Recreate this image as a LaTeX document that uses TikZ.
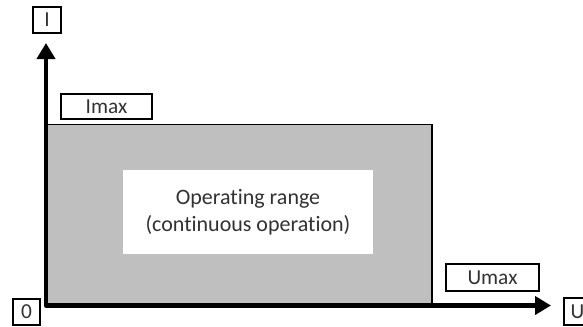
\documentclass[tikz,border=0pt]{standalone}
\usepackage{fontspec}
\setmainfont{Carlito}[Ligatures=NoCommon]
\usetikzlibrary{arrows.meta}
\definecolor{rangegray}{RGB}{191,191,191}
\definecolor{txtgray}{RGB}{50,50,50}
\tikzset{
  lblbox/.style={draw, line width=1pt, inner sep=0pt, text=txtgray,
    font=\fontsize{16}{19}\selectfont},
  axisline/.style={line width=3.4pt, line join=round,
    {Triangle[length=12pt,width=13.5pt]}-{Triangle[length=12pt,width=13.5pt]}},
}
\begin{document}
\begin{tikzpicture}[x=0.75pt,y=0.75pt,yscale=-1,xscale=1]
\useasboundingbox (0,0) rectangle (583,326);
% operating range
\draw [fill=rangegray, line width=1.1pt] (46,124.5) rectangle (432,305);
\node (range) [fill=white, inner sep=0pt, minimum width=187.5pt, minimum height=63pt,
  align=center, text=txtgray, font=\fontsize{16.5}{20.25}\selectfont] at (248,212)
  {Operating range\\(continuous operation)};
% axes
\coordinate (o) at (46,305.5);
\coordinate (itip) at (46,43);
\coordinate (utip) at (551,305.5);
\draw [axisline] (itip) -- (o) -- (utip);
% labels
\node (ilbl) [lblbox, minimum width=21pt, minimum height=19.5pt] at (47,20) {I};
\node (imax) [lblbox, minimum width=68.25pt, minimum height=18.75pt] at (106.5,106.5) {Imax};
\node (umax) [lblbox, minimum width=69.75pt, minimum height=20.25pt] at (492.5,277.5) {Umax};
\node (ulbl) [lblbox, minimum width=20.25pt, minimum height=20.25pt] at (577.5,311.5) {U};
\node (zero) [lblbox, minimum width=20.25pt, minimum height=19.5pt] at (26.5,312) {0};
\end{tikzpicture}
\end{document}
